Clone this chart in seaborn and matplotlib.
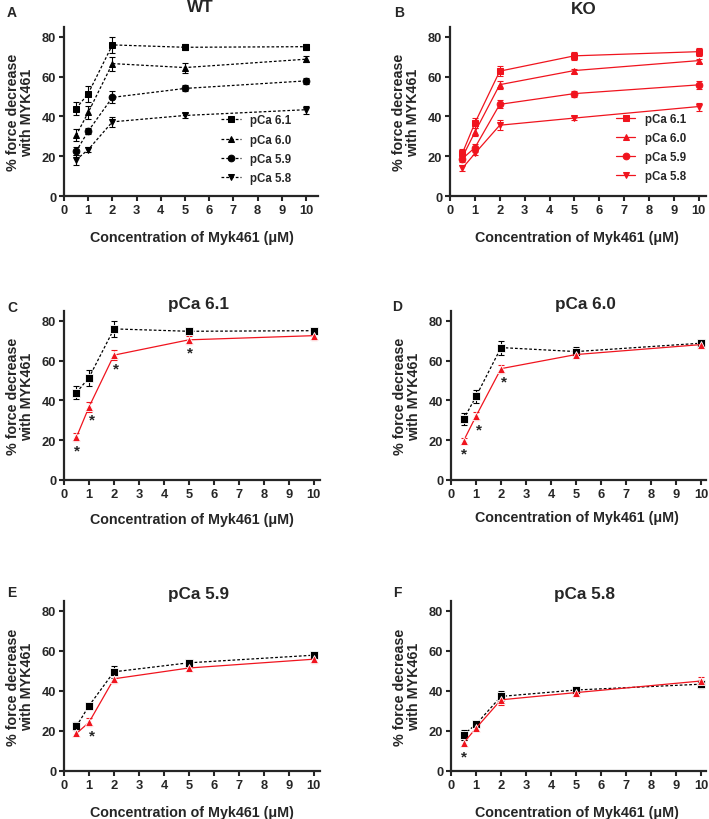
import numpy as np
import pandas as pd
import matplotlib
matplotlib.use("Agg")
import matplotlib.pyplot as plt
import seaborn as sns

# Data (mean and SEM, % force decrease)
conc = [0.5, 1, 2, 5, 10]
pca_levels = ["pCa 6.1", "pCa 6.0", "pCa 5.9", "pCa 5.8"]

wt_mean = {
    "pCa 6.1": [44.0, 51.5, 76.0, 74.8, 75.1],
    "pCa 6.0": [30.5, 42.0, 66.6, 64.6, 68.8],
    "pCa 5.9": [22.4, 32.6, 49.6, 54.1, 57.9],
    "pCa 5.8": [18.2, 23.3, 37.3, 40.5, 43.4],
}
wt_sem = {
    "pCa 6.1": [3.5, 4.0, 4.0, 1.5, 1.5],
    "pCa 6.0": [3.0, 3.5, 3.5, 2.5, 1.5],
    "pCa 5.9": [2.0, 1.5, 3.0, 1.5, 1.5],
    "pCa 5.8": [2.5, 1.2, 2.5, 1.2, 2.0],
}
ko_mean = {
    "pCa 6.1": [21.6, 36.7, 62.8, 70.5, 72.6],
    "pCa 6.0": [19.6, 32.1, 56.0, 63.1, 68.1],
    "pCa 5.9": [18.8, 24.3, 46.1, 51.5, 55.9],
    "pCa 5.8": [14.0, 21.4, 35.6, 39.2, 45.0],
}
ko_sem = {
    "pCa 6.1": [2.0, 2.5, 2.5, 2.0, 2.0],
    "pCa 6.0": [1.5, 2.0, 2.0, 1.0, 1.0],
    "pCa 5.9": [1.5, 2.0, 2.0, 1.5, 2.0],
    "pCa 5.8": [1.5, 1.0, 2.5, 1.2, 2.0],
}
# indices of concentrations with significant WT vs KO difference
signif = {
    "pCa 6.1": [0, 1, 2, 3],
    "pCa 6.0": [0, 1, 2],
    "pCa 5.9": [1],
    "pCa 5.8": [0],
}

RED = "#f0141e"
markers = {"pCa 6.1": "s", "pCa 6.0": "^", "pCa 5.9": "o", "pCa 5.8": "v"}
DASH = (2.2, 1.6)

W, H = 709, 820
fig = plt.figure(figsize=(W / 100, H / 100), dpi=100)

sns.set_style("ticks")
plt.rcParams["font.family"] = ["Liberation Sans", "DejaVu Sans"]
plt.rcParams["font.weight"] = "bold"


def px_axes(left, top, right, bottom):
    return fig.add_axes([left / W, 1 - bottom / H, (right - left) / W, (bottom - top) / H])


def style_axes(ax, xmax):
    ax.set_xlim(0, xmax)
    ax.set_ylim(0, 85)
    ax.set_xticks(range(0, 11))
    ax.set_yticks([0, 20, 40, 60, 80])
    ax.set_xlabel("")
    ax.set_ylabel("")
    sns.despine(ax=ax)
    for s in ["left", "bottom"]:
        ax.spines[s].set_linewidth(1.6)
    ax.tick_params(width=1.5, length=3.5, labelsize=9.3, pad=2)
    for lab in ax.get_xticklabels() + ax.get_yticklabels():
        lab.set_fontweight("bold")


def decorate(ax, left, top, bottom, title, title_xy, letter, letter_xy, xlab_xy):
    fig.text(title_xy[0] / W, 1 - title_xy[1] / H, title, ha="center", va="center",
             fontsize=12.3, fontweight="bold")
    fig.text(letter_xy[0] / W, 1 - letter_xy[1] / H, letter, ha="center", va="center",
             fontsize=10, fontweight="bold")
    fig.text(xlab_xy[0] / W, 1 - xlab_xy[1] / H, "Concentration of Myk461 (\u03bcM)",
             ha="center", va="center", fontsize=10.3, fontweight="bold")
    fig.text((left - 44) / W, 1 - ((top + bottom) / 2) / H, "% force decrease\nwith MYK461",
             ha="center", va="center", rotation=90, fontsize=10.3, fontweight="bold",
             linespacing=1.05, multialignment="center")


# ---- Panels A and B: all pCa per genotype ----
panels_top = [
    ("WT", wt_mean, wt_sem, "black", DASH, (64, 28, 318, 197), 10.5, (200, 8), "A", (12, 13), (192, 238),
     (0.6, 0.51)),
    ("KO", ko_mean, ko_sem, RED, "", (450, 28, 706, 197), 10.29, (584, 10), "B", (399, 13), (577, 238),
     (0.63, 0.52)),
]
for name, mean, sem, color, dash, box, xmax, txy, letter, lxy, xlxy, leg_anchor in panels_top:
    ax = px_axes(*box)
    df = pd.DataFrame([
        {"conc": c, "value": v, "pCa": p}
        for p in pca_levels for c, v in zip(conc, mean[p])
    ])
    for p in pca_levels:
        ax.errorbar(conc, mean[p], yerr=sem[p], fmt="none", ecolor=color, elinewidth=0.8,
                    capsize=2.4, capthick=0.8, zorder=2)
    sns.lineplot(data=df, x="conc", y="value", hue="pCa", style="pCa",
                 palette={p: color for p in pca_levels}, markers=markers,
                 dashes={p: dash for p in pca_levels}, markersize=4.8,
                 markeredgecolor=color, linewidth=0.9, errorbar=None, ax=ax, zorder=3)
    style_axes(ax, xmax)
    handles, labels = ax.get_legend_handles_labels()
    ax.legend(handles, labels, loc="upper left", bbox_to_anchor=leg_anchor, frameon=False,
              prop={"size": 8.3, "weight": "bold"}, handlelength=1.7, labelspacing=0.62,
              handletextpad=0.8, borderaxespad=0)
    decorate(ax, box[0], box[1], box[3], name, txy, letter, lxy, xlxy)

# ---- Panels C-F: WT vs KO per pCa ----
panels_cmp = [
    ("pCa 6.1", (64, 312, 320, 481), 10.25, (198, 305), "C", (12, 308), (192, 520)),
    ("pCa 6.0", (451, 312, 706, 481), 10.2, (585, 305), "D", (397, 307), (577, 518)),
    ("pCa 5.9", (64, 602, 320, 772), 10.25, (198, 595), "E", (12, 593), (192, 813)),
    ("pCa 5.8", (451, 602, 706, 772), 10.2, (584, 595), "F", (397, 593), (577, 813)),
]
for p, box, xmax, txy, letter, lxy, xlxy in panels_cmp:
    ax = px_axes(*box)
    df = pd.DataFrame(
        [{"conc": c, "value": v, "geno": "WT"} for c, v in zip(conc, wt_mean[p])]
        + [{"conc": c, "value": v, "geno": "KO"} for c, v in zip(conc, ko_mean[p])]
    )
    ax.errorbar(conc, ko_mean[p], yerr=ko_sem[p], fmt="none", ecolor=RED, elinewidth=0.8,
                capsize=2.4, capthick=0.8, zorder=2)
    ax.errorbar(conc, wt_mean[p], yerr=wt_sem[p], fmt="none", ecolor="black", elinewidth=0.8,
                capsize=2.4, capthick=0.8, zorder=2)
    sns.lineplot(data=df, x="conc", y="value", hue="geno", style="geno",
                 palette={"WT": "black", "KO": RED}, markers={"WT": "s", "KO": "^"},
                 dashes={"WT": DASH, "KO": ""}, markersize=5.2, markeredgewidth=0.6,
                 linewidth=0.9, errorbar=None, legend=False, ax=ax, zorder=3)
    for i in signif[p]:
        dx = 0.1 if conc[i] in (1, 2) else 0.05 * (conc[i] >= 5)
        ax.text(conc[i] + dx, ko_mean[p][i] - 6.5, "*", ha="center", va="center",
                fontsize=11, fontweight="bold")
    style_axes(ax, xmax)
    decorate(ax, box[0], box[1], box[3], p, txy, letter, lxy, xlxy)

fig.savefig("out.png", dpi=100)
